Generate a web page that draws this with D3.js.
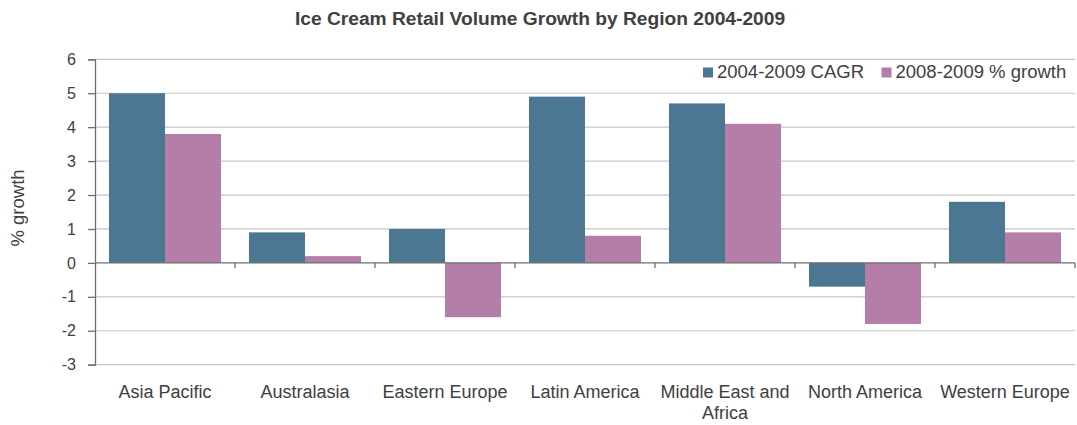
<!DOCTYPE html>
<html>
<head>
<meta charset="utf-8">
<script src="https://cdn.jsdelivr.net/npm/d3@7"></script>
<style>
  html, body { margin: 0; padding: 0; background: #fff; }
  svg { display: block; font-family: "Liberation Sans", Arial, sans-serif; }
</style>
</head>
<body>
<svg id="chart" width="1077" height="425"></svg>
<script>
// Regions (category labels; "\n" marks a manual line break)
const regions = ["Asia Pacific", "Australasia", "Eastern Europe", "Latin America",
                 "Middle East and\nAfrica", "North America", "Western Europe"];
// Series values, % growth
const seriesNames = ["2004-2009 CAGR", "2008-2009 % growth"];
const cagr = [5.0, 0.9, 1.0, 4.9, 4.7, -0.7, 1.8];
const growth0809 = [3.8, 0.2, -1.6, 0.8, 4.1, -1.8, 0.9];
const yTicks = [-3, -2, -1, 0, 1, 2, 3, 4, 5, 6];

const colors = ["#4c7793", "#b47ea8"];
const textColor = "#404040";

const svg = d3.select("#chart");
const plotLeft = 95, plotRight = 1075;
const plotTop = 59.3, plotBottom = 364.7;

const x = d3.scaleBand().domain(regions).range([plotLeft, plotRight]);
const groupPad = x.bandwidth() * 0.1;
const xInner = d3.scaleBand().domain(seriesNames).range([groupPad, x.bandwidth() - groupPad]);
const y = d3.scaleLinear().domain([-3, 6]).range([plotBottom, plotTop]);

// Title
svg.append("text")
  .attr("x", 540).attr("y", 25)
  .attr("text-anchor", "middle")
  .attr("font-size", 19.2).attr("font-weight", "bold")
  .attr("fill", textColor)
  .text("Ice Cream Retail Volume Growth by Region 2004-2009");

// Gridlines
svg.append("g").selectAll("line")
  .data(yTicks.filter(d => d !== 0))
  .join("line")
  .attr("x1", plotLeft).attr("x2", plotRight)
  .attr("y1", d => y(d)).attr("y2", d => y(d))
  .attr("stroke", "#c6c6c6").attr("stroke-width", 1.2);

// Y axis (plain hyphen for negatives)
const yAxis = svg.append("g")
  .attr("transform", `translate(${plotLeft},0)`)
  .call(d3.axisLeft(y).tickValues(yTicks).tickSize(7).tickPadding(12).tickFormat(d => String(d)));
yAxis.select(".domain").attr("stroke", "#6e6e6e").attr("stroke-width", 1.3);
yAxis.selectAll(".tick line").attr("stroke", "#6e6e6e").attr("stroke-width", 1.3);
yAxis.selectAll(".tick text")
  .attr("font-size", 16).attr("fill", textColor)
  .attr("font-family", "'Liberation Sans', Arial, sans-serif");

// Y axis title
svg.append("text")
  .attr("transform", `translate(24,208) rotate(-90)`)
  .attr("text-anchor", "middle")
  .attr("font-size", 18.5).attr("fill", textColor)
  .text("% growth");

// Bars
const rows = regions.map((r, i) => ({ region: r, values: [cagr[i], growth0809[i]] }));
const groups = svg.append("g").selectAll("g")
  .data(rows)
  .join("g")
  .attr("transform", d => `translate(${x(d.region)},0)`);
groups.selectAll("rect")
  .data(d => d.values.map((v, k) => ({ key: seriesNames[k], v, k })))
  .join("rect")
  .attr("x", d => xInner(d.key))
  .attr("width", xInner.bandwidth())
  .attr("y", d => y(Math.max(0, d.v)))
  .attr("height", d => Math.abs(y(d.v) - y(0)))
  .attr("fill", d => colors[d.k]);

// Zero line with category ticks below it
const xAxis = svg.append("g")
  .attr("transform", `translate(0,${y(0)})`);
xAxis.append("line")
  .attr("x1", plotLeft).attr("x2", plotRight)
  .attr("stroke", "#6e6e6e").attr("stroke-width", 1.3);
const boundaries = regions.map(r => x(r) + x.bandwidth());
xAxis.selectAll("line.tick")
  .data(boundaries)
  .join("line")
  .attr("class", "tick")
  .attr("x1", d => d).attr("x2", d => d)
  .attr("y1", 0).attr("y2", 5)
  .attr("stroke", "#6e6e6e").attr("stroke-width", 1.3);

// Category labels
const labels = svg.append("g").selectAll("text")
  .data(regions)
  .join("text")
  .attr("x", d => x(d) + x.bandwidth() / 2)
  .attr("y", 398)
  .attr("text-anchor", "middle")
  .attr("font-size", 18).attr("fill", textColor);
labels.each(function (d) {
  const t = d3.select(this);
  d.split("\n").forEach((line, i) => {
    t.append("tspan")
      .attr("x", x(d) + x.bandwidth() / 2)
      .attr("dy", i === 0 ? 0 : 21)
      .text(line);
  });
});

// Legend
const legend = svg.append("g").attr("transform", "translate(703,78)");
const legendItems = [
  { name: seriesNames[0], color: colors[0], x: 0 },
  { name: seriesNames[1], color: colors[1], x: 178.5 }
];
legendItems.forEach(it => {
  legend.append("rect")
    .attr("x", it.x).attr("y", -10.5)
    .attr("width", 10).attr("height", 10)
    .attr("fill", it.color);
  legend.append("text")
    .attr("x", it.x + 14).attr("y", 0)
    .attr("font-size", 18.5).attr("fill", textColor)
    .text(it.name);
});
</script>
</body>
</html>
